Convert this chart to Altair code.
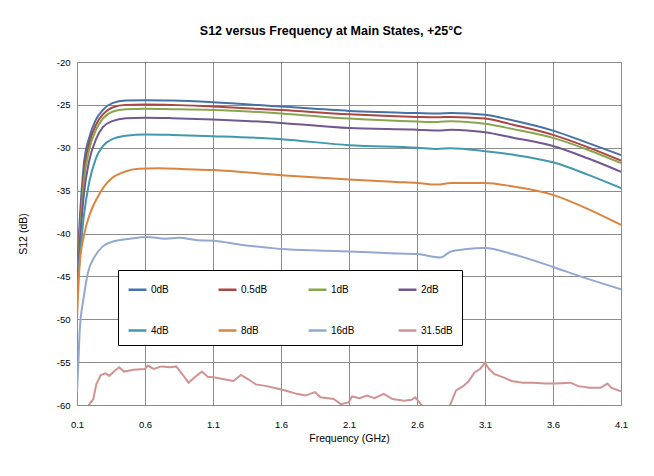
import altair as alt
import pandas as pd

# ---- data ----
names = ["0dB", "0.5dB", "1dB", "2dB", "4dB", "8dB", "16dB", "31.5dB"]
colors = ["#4572A7", "#AA4643", "#89A54E", "#71588F", "#4198AF", "#DB843D", "#93A9CF", "#D19392"]

f_smooth = [0.1, 0.12, 0.15, 0.19, 0.24, 0.29, 0.36, 0.46, 0.6, 0.8, 1.1, 1.6,
            2.1, 2.6, 2.75, 2.85, 3.1, 3.3, 3.6, 3.85, 4.1]

s_0dB = [-45.0, -38.5, -32.0, -28.8, -26.7, -25.6, -24.8, -24.5, -24.45, -24.5, -24.7, -25.2,
         -25.7, -25.95, -26.0, -25.95, -26.15, -26.8, -28.0, -29.4, -30.85]
s_05dB = [-45.5, -39.5, -33.0, -29.5, -27.3, -26.1, -25.3, -25.0, -24.95, -25.0, -25.2, -25.6,
          -26.1, -26.4, -26.45, -26.4, -26.6, -27.3, -28.5, -29.9, -31.5]
s_1dB = [-46.0, -40.5, -34.0, -30.2, -27.9, -26.6, -25.8, -25.5, -25.45, -25.5, -25.6, -26.0,
         -26.6, -26.95, -27.0, -26.9, -27.2, -27.8, -28.85, -30.2, -31.8]
s_2dB = [-46.5, -41.5, -35.5, -31.5, -29.0, -27.6, -26.9, -26.55, -26.5, -26.55, -26.7, -27.1,
         -27.7, -27.9, -28.0, -27.9, -28.2, -28.8, -29.8, -31.2, -32.8]
s_4dB = [-47.0, -43.0, -38.0, -34.0, -31.2, -29.8, -29.0, -28.6, -28.45, -28.5, -28.65, -29.0,
         -29.7, -30.0, -30.15, -30.05, -30.4, -30.8, -31.7, -33.1, -34.7]

f_8dB = [0.1, 0.12, 0.15, 0.2, 0.25, 0.3, 0.36, 0.45, 0.55, 0.7, 0.9, 1.1, 1.6, 2.1, 2.45,
         2.6, 2.75, 2.85, 3.1, 3.3, 3.6, 3.85, 4.1]
s_8dB = [-50.0, -43.5, -40.3, -37.5, -35.8, -34.5, -33.5, -32.8, -32.45, -32.4, -32.5, -32.6,
         -33.2, -33.7, -34.0, -34.1, -34.3, -34.1, -34.1, -34.5, -35.5, -37.1, -39.0]

f_16dB = [0.1, 0.11, 0.12, 0.15, 0.18, 0.23, 0.29, 0.37, 0.49, 0.61, 0.75, 0.85, 0.99, 1.1,
          1.3, 1.6, 1.9, 2.1, 2.4, 2.6, 2.77, 2.85, 2.95, 3.1, 3.3, 3.6, 3.8, 4.1]
s_16dB = [-58.5, -55.1, -51.3, -47.4, -44.6, -42.7, -41.5, -40.9, -40.6, -40.4, -40.6, -40.5,
          -40.8, -40.85, -41.3, -41.8, -42.0, -42.1, -42.3, -42.4, -42.8, -42.1, -41.85, -41.7,
          -42.4, -43.9, -45.0, -46.5]

f_315dB = [0.1, 0.15, 0.187, 0.22, 0.242, 0.275, 0.31, 0.337, 0.378, 0.41, 0.446, 0.514, 0.6,
           0.62, 0.664, 0.72, 0.787, 0.83, 0.869, 0.92, 0.978, 1.019, 1.06, 1.114, 1.18, 1.25,
           1.305, 1.36, 1.414, 1.496, 1.578, 1.632, 1.714, 1.78, 1.85, 1.89, 1.987, 2.04, 2.096,
           2.123, 2.178, 2.232, 2.287, 2.355, 2.42, 2.505, 2.56, 2.587, 2.628, 2.655, 2.7, 2.8,
           2.846, 2.887, 2.94, 2.98, 3.023, 3.064, 3.1, 3.13, 3.17, 3.24, 3.295, 3.377, 3.46,
           3.54, 3.62, 3.73, 3.785, 3.87, 3.95, 4.0, 4.03, 4.1]
s_315dB = [-64.0, -62.0, -60.0, -59.3, -57.6, -56.5, -56.3, -56.6, -56.0, -55.6, -56.1, -55.9,
           -55.8, -55.4, -55.8, -55.5, -55.6, -55.5, -56.3, -57.4, -56.6, -56.1, -56.7, -56.8,
           -57.0, -57.2, -56.5, -57.0, -57.6, -57.8, -58.1, -58.3, -58.7, -58.9, -58.5, -59.1,
           -59.3, -59.9, -59.7, -59.0, -59.2, -58.9, -59.2, -58.7, -59.3, -59.5, -59.4, -59.1,
           -59.9, -60.3, -62.0, -61.5, -59.9, -58.3, -57.8, -57.2, -56.2, -55.8, -55.1, -55.8,
           -56.4, -56.8, -57.2, -57.4, -57.4, -57.5, -57.5, -57.4, -57.8, -58.0, -58.0, -57.5,
           -58.0, -58.4]

x_ticks = [0.1, 0.6, 1.1, 1.6, 2.1, 2.6, 3.1, 3.6, 4.1]
y_ticks = [-60, -55, -50, -45, -40, -35, -30, -25, -20]

# ---- build tables ----
smooth_sets = [
    ("0dB", f_smooth, s_0dB), ("0.5dB", f_smooth, s_05dB), ("1dB", f_smooth, s_1dB),
    ("2dB", f_smooth, s_2dB), ("4dB", f_smooth, s_4dB), ("8dB", f_8dB, s_8dB),
    ("16dB", f_16dB, s_16dB),
]
rows = []
for n, fs, vs in smooth_sets:
    for f, v in zip(fs, vs):
        rows.append({"state": n, "freq": f, "s12": v})
df_smooth = pd.DataFrame(rows)
df_noisy = pd.DataFrame({"state": "31.5dB", "freq": f_315dB, "s12": s_315dB})

font = "Liberation Sans"

x_enc = alt.X("freq:Q", scale=alt.Scale(domain=[0.1, 4.1], nice=False, zero=False),
              axis=alt.Axis(values=x_ticks, format=".1f", title="Frequency (GHz)",
                            labelFlush=False, labelOverlap=False))
y_enc = alt.Y("s12:Q", scale=alt.Scale(domain=[-60, -20], nice=False, zero=False),
              axis=alt.Axis(values=y_ticks, title="S12 (dB)", labelExpr="'' + datum.value",
                            labelFlush=False, labelOverlap=False))
color_enc = alt.Color(
    "state:N",
    scale=alt.Scale(domain=names, range=colors),
    legend=alt.Legend(
        title=None, orient="none", legendX=41, legendY=208, direction="horizontal",
        columns=4, fillColor="white", strokeColor="#000000", padding=9,
        symbolType="stroke", symbolStrokeWidth=2.5, symbolSize=320,
        labelFontSize=10, labelFont=font, labelColor="#000000", labelOffset=3,
        rowPadding=25, columnPadding=30, gridAlign="all",
    ),
)

smooth = alt.Chart(df_smooth).mark_line(strokeWidth=2, interpolate="monotone", clip=True).encode(
    x=x_enc, y=y_enc, color=color_enc, detail="state:N")
noisy = alt.Chart(df_noisy).mark_line(strokeWidth=2, clip=True).encode(
    x=x_enc, y=y_enc, color=color_enc)

chart = alt.layer(smooth, noisy).properties(
    width=544, height=343,
    autosize=alt.AutoSizeParams(type="none"),
    padding={"left": 69, "top": 54, "right": 25, "bottom": 60},
    title=alt.Title("S12 versus Frequency at Main States, +25°C", font=font, fontSize=12.5,
                    fontWeight="bold", color="#000000", offset=20, dx=-18, anchor="middle"),
).configure_view(stroke="#8c8c8c", strokeWidth=1).configure_axis(
    grid=True, gridColor="#8c8c8c", gridWidth=1, domain=False, ticks=False,
    labelFont=font, labelFontSize=9.5, labelColor="#000000",
    titleFont=font, titleFontSize=10.5, titleFontWeight="normal", titleColor="#000000",
).configure_axisX(labelPadding=14, titlePadding=5).configure_axisY(labelPadding=7, titlePadding=28)

chart.save("out.html", embed_options={"renderer": "svg", "actions": False})
